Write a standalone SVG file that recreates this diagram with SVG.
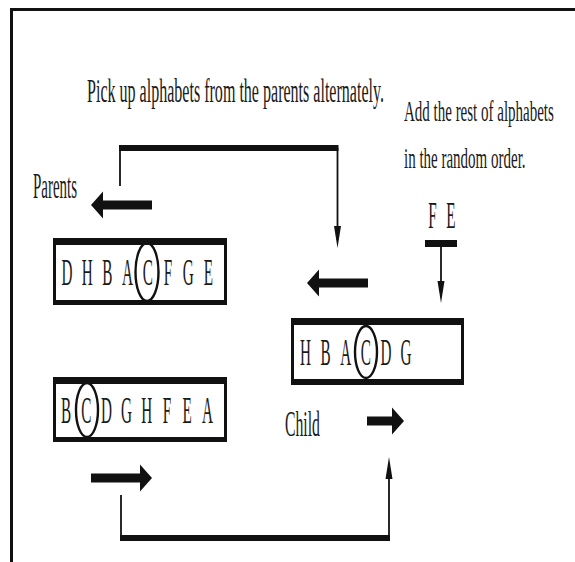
<svg xmlns="http://www.w3.org/2000/svg" width="575" height="562" viewBox="0 0 575 562">
<style>
.lbl{font-family:"Liberation Serif","Times New Roman",serif;fill:#1a1a1a}
.let{font-family:"Liberation Serif","Times New Roman",serif;font-size:38px;fill:#1a1a1a;text-anchor:middle}
.thin{stroke:#111;stroke-width:1.8;fill:none}
.box{fill:#fff;stroke:#111;stroke-width:3}
.bar{fill:#111}
.ring{fill:none;stroke:#111;stroke-width:2.4}
.blk{fill:#111}
</style>
<defs>
<marker id="ah" markerUnits="userSpaceOnUse" viewBox="-22 -4 22 8" refX="-8" refY="0" markerWidth="22" markerHeight="8" orient="auto">
<path d="M0,0 L-22,-3.5 L-22,3.5 Z" fill="#111"/>
</marker>
<path id="blkLong" d="M-61,-4.5 H-12 V-13.5 L0,0 L-12,13.5 V4.5 H-61 Z"/>
<path id="blkShort" d="M-37,-4.5 H-12 V-13.5 L0,0 L-12,13.5 V4.5 H-37 Z"/>
</defs>
<rect width="575" height="562" fill="#fff"/>
<g id="frame">
<line x1="10" y1="9.5" x2="575" y2="9.5" stroke="#111" stroke-width="3"/>
<line x1="11.5" y1="8" x2="11.5" y2="562" stroke="#111" stroke-width="3"/>
</g>
<g id="title"><text class="lbl" font-size="34" transform="translate(87,102) scale(0.472,1)">Pick up alphabets from the parents alternately.</text></g>
<g id="note">
<text class="lbl" font-size="30" transform="translate(404,121) scale(0.5,1)">Add the rest of alphabets</text>
<text class="lbl" font-size="30" transform="translate(404,168) scale(0.5,1)">in the random order.</text>
</g>
<g id="parents-label"><text class="lbl" font-size="35" transform="translate(33,198) scale(0.427,1)">Parents</text></g>
<g id="child-label"><text class="lbl" font-size="35" transform="translate(285,436) scale(0.45,1)">Child</text></g>
<g id="parent1">
<rect class="box" x="54.5" y="239.5" width="171" height="64"/>
<rect class="bar" x="53" y="238" width="174" height="7"/>
<rect class="bar" x="53" y="300" width="174" height="5"/>
<text class="let" transform="translate(0,285) scale(0.4,1)"><tspan x="167.5 218 268.5 319 369.5 420 470.5 521" y="0">DHBACFGE</tspan></text>
<ellipse class="ring" cx="147" cy="272" rx="11.5" ry="29"/>
</g>
<g id="parent2">
<rect class="box" x="54.5" y="378.5" width="171" height="62"/>
<rect class="bar" x="53" y="377" width="174" height="7"/>
<rect class="bar" x="53" y="437" width="174" height="5"/>
<text class="let" transform="translate(0,423) scale(0.4,1)"><tspan x="165 215.5 266 316.5 367 417.5 468 518.5" y="0">BCDGHFEA</tspan></text>
<ellipse class="ring" cx="87" cy="410" rx="11" ry="27"/>
</g>
<g id="child">
<rect class="box" x="292.5" y="319.5" width="170" height="64"/>
<rect class="bar" x="291" y="318" width="173" height="7"/>
<rect class="bar" x="291" y="379" width="173" height="6"/>
<text class="let" transform="translate(0,365) scale(0.4,1)"><tspan x="763.75 814 864.25 914.5 964.75 1015" y="0">HBACDG</tspan></text>
<ellipse class="ring" cx="366" cy="352" rx="11" ry="26"/>
</g>
<g id="rest">
<text class="let" transform="translate(0,228) scale(0.4,1)"><tspan x="1081.25 1127.5" y="0">FE</tspan></text>
<rect class="bar" x="425" y="240" width="32" height="7"/>
</g>
<g id="connectors">
<line class="thin" x1="120" y1="186" x2="120" y2="148"/>
<rect class="bar" x="119" y="145" width="219.5" height="6"/>
<path class="thin" d="M337.5,148 V240" marker-end="url(#ah)"/>
<path class="thin" d="M441,247 V295" marker-end="url(#ah)"/>
<line class="thin" x1="121" y1="495" x2="121" y2="538"/>
<rect class="bar" x="120" y="535" width="270" height="6"/>
<path class="thin" d="M389,538 V465" marker-end="url(#ah)"/>
<use href="#blkLong" class="blk" transform="translate(91,205) scale(-1,1)"/>
<use href="#blkLong" class="blk" transform="translate(307,283) scale(-1,1)"/>
<use href="#blkShort" class="blk" transform="translate(404,421)"/>
<use href="#blkLong" class="blk" transform="translate(152,478)"/>
</g>
</svg>
